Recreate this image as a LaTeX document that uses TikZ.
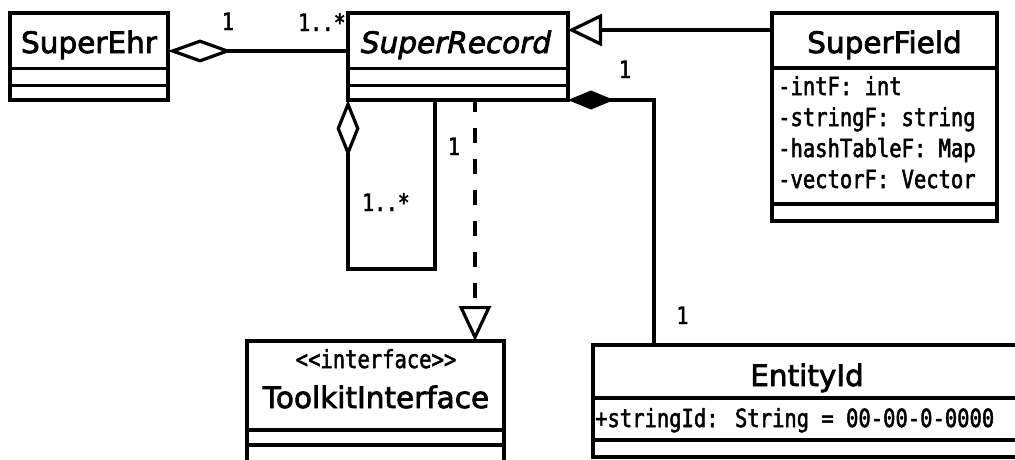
\documentclass[tikz,border=0pt]{standalone}
\usepackage{fontspec}
\newfontfamily\umlsans[FakeBold=2.5]{DejaVu Sans}
\newfontfamily\umlmono[FakeStretch=0.82,FakeBold=2]{DejaVu Sans Mono}
\usetikzlibrary{arrows.meta,calc}

\begin{document}
\begin{tikzpicture}[x=1pt,y=-1pt,
  classbox/.style={draw, rectangle, line width=3.2pt, anchor=north west,
    inner sep=0pt, outer sep=0pt},
  sepline/.style={line width=3.2pt},
  title/.style={font=\umlsans\fontsize{29.5}{34}\selectfont, inner sep=0pt, anchor=base},
  attr/.style={font=\umlmono\fontsize{25}{30}\selectfont, inner sep=0pt, anchor=base west},
  stereo/.style={font=\umlmono\fontsize{25}{30}\selectfont, inner sep=0pt, anchor=base},
  mult/.style={font=\umlmono\fontsize{24}{28}\selectfont, inner sep=0pt, anchor=base},
  conn/.style={line width=3.2pt},
  aggr/.style={conn, {Diamond[open, length=#1, width=23pt]}-},
  compo/.style={conn, {Diamond[length=46pt, width=19pt]}-},
  inherit/.style={conn, -{Triangle[open, length=34pt, width=32pt]}},
  realize/.style={conn, dash pattern=on 15pt off 16pt, dash phase=3pt,
    -{Triangle[open, length=35pt, width=32pt]}}
]
\useasboundingbox (0,0) rectangle (1015,459);
\fill[white] (0,0) rectangle (1015,459);
\clip (0,0) rectangle (1015,459);

% class outlines
\node[classbox, minimum width=158pt, minimum height=87pt]  (ehr) at (10,13) {};
\node[classbox, minimum width=220pt, minimum height=87pt]  (rec) at (348,13) {};
\node[classbox, minimum width=225pt, minimum height=208pt] (fld) at (772,13) {};
\node[classbox, minimum width=257pt, minimum height=140pt] (tk)  at (247,341) {};
\node[classbox, minimum width=428pt, minimum height=112pt] (ent) at (593,345) {};

% compartment separators
\foreach \n/\a/\b in {ehr/55.5/72.5, rec/55.5/72.5, fld/55/191, tk/89/104, ent/53/95} {
  \draw[sepline] ($(\n.north west)+(0,\a)$) -- ($(\n.north east)+(0,\a)$);
  \draw[sepline] ($(\n.north west)+(0,\b)$) -- ($(\n.north east)+(0,\b)$);
}

% class names
\node[title] (ehr-t) at (89,53) {SuperEhr};
\node[title, font=\umlsans\itshape\fontsize{29.5}{34}\selectfont] (rec-t) at (456,53) {SuperRecord};
\node[title] (fld-t) at (884.5,53) {SuperField};
\node[stereo] (tk-s) at (376,368) {<{}<interface>{}>};
\node[title] (tk-t) at (376,408) {ToolkitInterface};
\node[title] (ent-t) at (807,386) {EntityId};

% attributes
\node[attr] (fld-a1) at (778,95)  {-intF: int};
\node[attr] (fld-a2) at (778,126) {-stringF: string};
\node[attr] (fld-a3) at (778,157) {-hashTableF: Map};
\node[attr] (fld-a4) at (778,188) {-vectorF: Vector};
\node[attr] (ent-a1) at (595,427) {+stringId: String = 00-00-0-0000};

% relations
\draw[aggr=64pt] ([yshift=5.5pt]ehr.east) -- ([yshift=5.5pt]rec.west);
\draw[inherit] ([yshift=-17pt]fld.north west) -- ([yshift=-17pt]rec.north east);
\draw[compo] (rec.south east) -| ([xshift=61pt]ent.north west);
\draw[line width=4.6pt] ([xshift=61pt]ent.north west) -- ([xshift=95pt]ent.north west);
\coordinate (loop) at (435,269);
\draw[aggr=57pt] (rec.south west) |- (loop) -- (loop |- rec.south);
\coordinate (rtip) at ([xshift=99.5pt]tk.north);
\draw[realize] (rec.south -| rtip) -- (rtip);

% multiplicities
\node[mult] (m-ehr)  at (228,30)    {1};
\node[mult] (m-rec)  at (322,31)    {1..*};
\node[mult] (m-comp) at (625,78)    {1};
\node[mult] (m-real) at (454,155)   {1};
\node[mult] (m-loop) at (386,211)   {1..*};
\node[mult] (m-ent)  at (682.5,324) {1};
\end{tikzpicture}
\end{document}
